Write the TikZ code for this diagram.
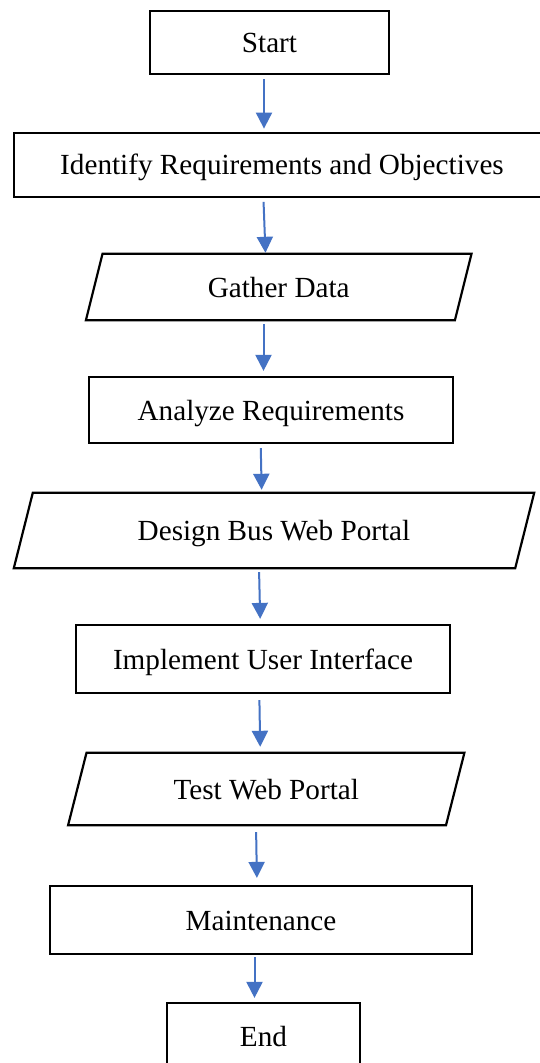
\documentclass[tikz,border=0pt]{standalone}
\usepackage{fontspec}
\setmainfont{Liberation Serif}
\usetikzlibrary{arrows.meta}

\definecolor{flowblue}{HTML}{4472C4}

\tikzset{
  boxline/.style={draw=black, line width=2.2pt},
  stepbox/.style={boxline, rectangle, inner sep=0pt},
  leanbox/.style={rectangle, inner sep=0pt},
  arr/.style={draw=flowblue, line width=2pt,
    -{Triangle[length=16pt,width=16pt]},
    shorten <=4pt, shorten >=3pt},
}

% parallelogram drawn around a named node: #1 node, #2 half of the slant
\newcommand\leanpath[2]{%
  \draw[boxline, line join=miter]
    ([xshift=#2]#1.north west) -- ([xshift=#2]#1.north east) --
    ([xshift=-#2]#1.south east) -- ([xshift=-#2]#1.south west) -- cycle;}

\begin{document}
\begin{tikzpicture}[x=1pt, y=-1pt,
  every node/.style={font=\fontsize{29.2}{34}\selectfont,
    text height=21pt, text depth=1pt}]
\useasboundingbox (0,0) rectangle (540,1063);
\clip (0,0) rectangle (540,1063);
\fill[white] (0,0) rectangle (540,1063);

\node[stepbox, minimum width=239pt, minimum height=63pt] (start) at (269.5,42.5) {Start};
\node[stepbox, minimum width=536pt, minimum height=64pt] (ident) at (282,164.7) {Identify Requirements and Objectives};
\node[leanbox, minimum width=368.6pt, minimum height=66pt] (gather) at (278.7,287) {Gather Data};
\node[stepbox, minimum width=364pt, minimum height=66pt] (analyze) at (271,410) {Analyze Requirements};
\node[leanbox, minimum width=501pt, minimum height=75pt] (design) at (274,530.5) {Design Bus Web Portal};
\node[stepbox, minimum width=374pt, minimum height=68pt] (impl) at (263,659) {Implement User Interface};
\node[leanbox, minimum width=377.5pt, minimum height=72pt] (test) at (266.25,789) {Test Web Portal};
\node[stepbox, minimum width=422pt, minimum height=68pt] (maint) at (261,920) {Maintenance};
\node[stepbox, minimum width=193pt, minimum height=66pt] (end) at (263.5,1036) {End};

\leanpath{gather}{8.3pt}
\leanpath{design}{9.5pt}
\leanpath{test}{9.2pt}

\draw[arr] (264,0 |- start.south) -- (264,0 |- ident.north);
\draw[arr, shorten >=1pt] (263.4,0 |- ident.south) -- (265.5,0 |- gather.north);
\draw[arr, shorten >=5pt] (263.5,0 |- gather.south) -- (263.5,0 |- analyze.north);
\draw[arr] (260.7,0 |- analyze.south) -- (261.7,0 |- design.north);
\draw[arr, shorten >=5pt] (259,0 |- design.south) -- (260.3,0 |- impl.north);
\draw[arr, shorten <=6pt, shorten >=6pt] (259.3,0 |- impl.south) -- (260.3,0 |- test.north);
\draw[arr, shorten <=7pt, shorten >=7pt] (256,0 |- test.south) -- (257,0 |- maint.north);
\draw[arr, shorten <=2pt, shorten >=4pt] (254.5,0 |- maint.south) -- (254.5,0 |- end.north);
\end{tikzpicture}
\end{document}
